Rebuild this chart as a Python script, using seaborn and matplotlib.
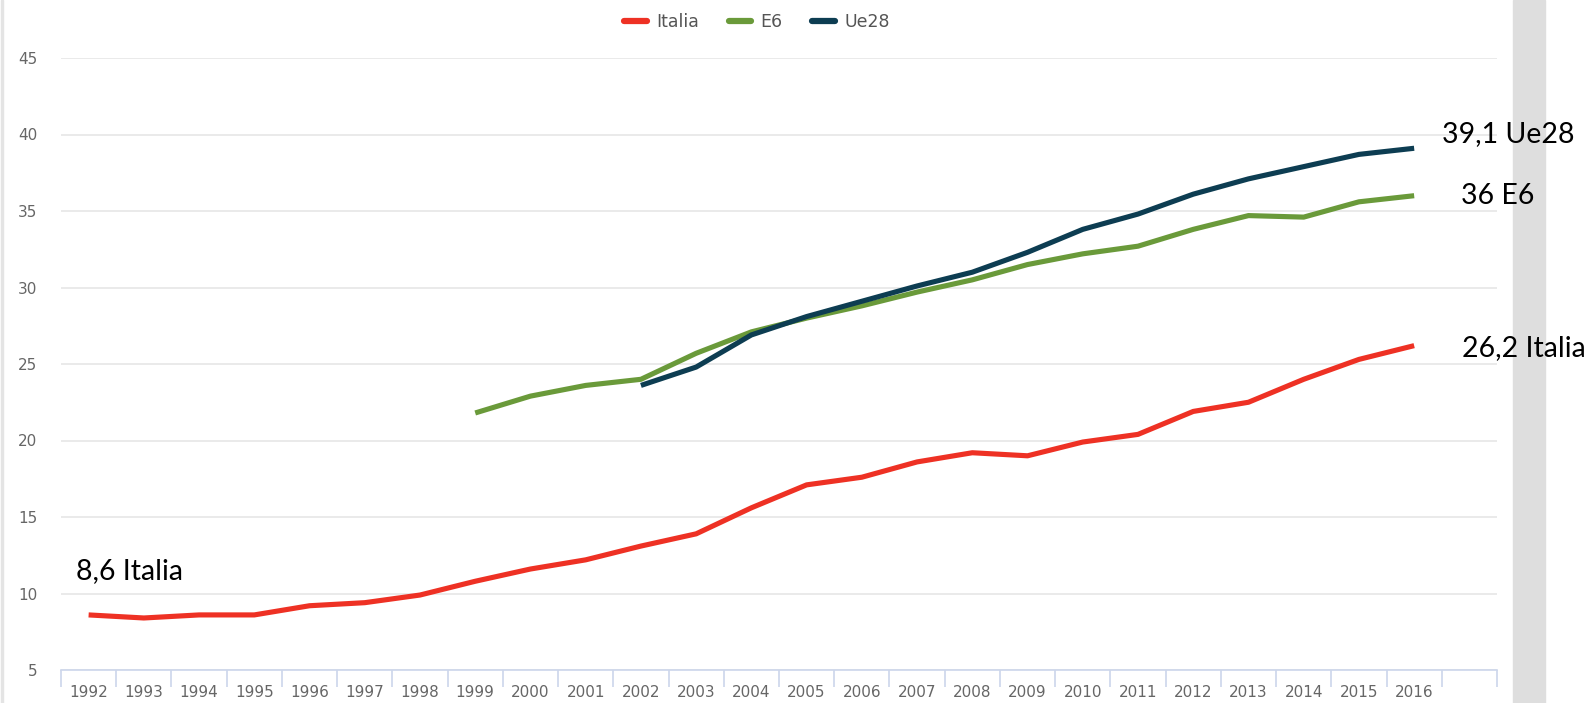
import numpy as np
import pandas as pd
import seaborn as sns
import matplotlib.pyplot as plt
from matplotlib.patches import Rectangle
from matplotlib.lines import Line2D

# data
years = list(range(1992, 2017))
italia = [8.6, 8.4, 8.6, 8.6, 9.2, 9.4, 9.9, 10.8, 11.6, 12.2, 13.1, 13.9, 15.6,
          17.1, 17.6, 18.6, 19.2, 19.0, 19.9, 20.4, 21.9, 22.5, 24.0, 25.3, 26.2]
e6_years = list(range(1999, 2017))
e6 = [21.8, 22.9, 23.6, 24.0, 25.7, 27.1, 28.0, 28.8, 29.7, 30.5, 31.5, 32.2,
      32.7, 33.8, 34.7, 34.6, 35.6, 36.0]
ue28_years = list(range(2002, 2017))
ue28 = [23.6, 24.8, 26.9, 28.1, 29.1, 30.1, 31.0, 32.3, 33.8, 34.8, 36.1, 37.1,
        37.9, 38.7, 39.1]
series = ['Italia', 'E6', 'Ue28']
colors = ['#ee3124', '#6a9a3a', '#0d3d52']

df = pd.concat([
    pd.DataFrame({'anno': years, 'valore': italia, 'serie': 'Italia'}),
    pd.DataFrame({'anno': e6_years, 'valore': e6, 'serie': 'E6'}),
    pd.DataFrame({'anno': ue28_years, 'valore': ue28, 'serie': 'Ue28'}),
])

sns.set_theme(style='white')
plt.rcParams['font.family'] = ['DejaVu Sans']

fig = plt.figure(figsize=(15.87, 7.03), dpi=100)

# page decorations (behind everything)
fig.patches.append(Rectangle((1513/1587, 0), 32/1587, 1, transform=fig.transFigure,
                             color='#dedede', zorder=-5))
fig.patches.append(Rectangle((1/1587, 0), 2/1587, 1, transform=fig.transFigure,
                             color='#e4e4e4', zorder=-5))

ax = fig.add_axes([61/1587, 1-670/703, (1497-61)/1587, (670-58)/703])
ax.patch.set_alpha(0)

sns.lineplot(data=df, x='anno', y='valore', hue='serie', hue_order=series,
             palette=colors, linewidth=3.7, legend=False, ax=ax,
             solid_capstyle='butt')

ax.set_xlim(1991.5, 2017.5)
ax.set_ylim(5, 45)
ax.set_yticks(range(5, 46, 5))
ax.yaxis.grid(True, color='#e6e6e6', linewidth=1.2)
ax.set_axisbelow(True)
for s in ['left', 'right', 'top']:
    ax.spines[s].set_visible(False)
ax.spines['bottom'].set_color('#ccd6eb')
ax.spines['bottom'].set_linewidth(1.2)

ax.set_xticks(np.arange(1991.5, 2018, 1))
ax.set_xticklabels([])
ax.tick_params(axis='x', which='major', length=12, color='#ccd6eb', width=1.2,
               direction='out', bottom=True)
ax.set_xticks(years, minor=True)
ax.set_xticklabels([str(y) for y in years], minor=True)
ax.tick_params(axis='x', which='minor', length=0, pad=11, labelsize=11,
               labelcolor='#666666')
ax.tick_params(axis='y', length=0, pad=17, labelsize=11, labelcolor='#666666')
ax.set_xlabel('')
ax.set_ylabel('')

# end labels
lab_font = dict(family='Lato', fontsize=20.5, color='black', va='center', clip_on=False)
ax.text(1991.77, 11.5, '8,6 Italia', ha='left', **lab_font)
ax.text(2016.5, 40.0, '39,1 Ue28', ha='left', **lab_font)
ax.text(2016.85, 36.0, '36 E6', ha='left', **lab_font)
ax.text(2016.86, 26.05, '26,2 Italia', ha='left', **lab_font)

handles = [Line2D([0], [0], color=c, linewidth=4.5) for c in colors]
leg = fig.legend(handles, series, loc='center', bbox_to_anchor=(0.477, 0.969),
                 ncol=3, frameon=False, fontsize=12.5, handlelength=1.3,
                 handletextpad=0.55, columnspacing=1.7)
for t in leg.get_texts():
    t.set_color('#555555')

fig.savefig('out.png', dpi=100)
